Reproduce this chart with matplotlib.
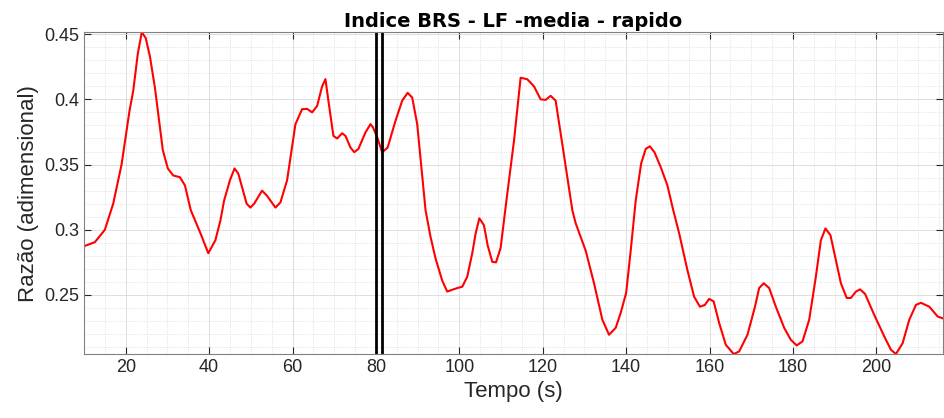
import matplotlib.pyplot as plt
import numpy as np
from matplotlib.ticker import MultipleLocator

# curve (tempo in s, razao)
tempo = [10, 12.6, 15, 17, 19, 20.9, 21.8, 22.9, 23.85, 24.8, 25.8, 27, 28.9, 30.1,
         31.4, 33, 34.2, 35.6, 37.9, 39.8, 41.5, 42.7, 43.6, 45, 46.1, 47, 49, 49.9,
         50.8, 52.7, 53.9, 55.9, 57.1, 58.7, 60.7, 62.3, 63.5, 64.7, 65.9, 67.1, 67.9,
         68.6, 69.8, 70.7, 71.9, 72.7, 73.9, 74.8, 75.8, 77.5, 78.7, 79.3, 80.3, 81.5,
         82.8, 84.7, 86.3, 87.6, 88.7, 89.9, 91.9, 93.1, 94.3, 95.9, 97.1, 98.3, 99.5,
         100.7, 101.9, 103.1, 103.9, 104.8, 105.9, 106.8, 107.9, 108.8, 109.9, 110.7,
         111.3, 113.1, 114.7, 116.3, 117.9, 119.5, 120.7, 121.9, 123.1, 124.3, 125.9,
         127.1, 127.9, 130.3, 132.3, 134.3, 135.9, 137.5, 138.7, 140, 141.1, 142.3,
         143.6, 144.7, 145.7, 146.8, 148.3, 149.9, 151.3, 152.7, 154.7, 156.3, 157.7,
         158.9, 159.9, 161, 162.3, 163.9, 165.8, 167.1, 169.1, 170.9, 171.9, 173,
         174.3, 175.9, 177.9, 179.5, 180.9, 182.3, 183.9, 185.5, 186.7, 187.8, 189,
         190.3, 191.5, 192.9, 193.9, 195.1, 196.1, 197.3, 199.5, 201.9, 203.5, 204.7,
         206.3, 207.9, 209.5, 210.7, 212.7, 214.7, 216]
razao = [0.2874, 0.2905, 0.300, 0.320, 0.350, 0.391, 0.4065, 0.435, 0.4515, 0.447,
         0.433, 0.409, 0.361, 0.347, 0.3416, 0.3403, 0.334, 0.315, 0.2975, 0.282,
         0.292, 0.307, 0.3225, 0.338, 0.347, 0.343, 0.320, 0.317, 0.320, 0.330,
         0.326, 0.317, 0.321, 0.338, 0.381, 0.3925, 0.3927, 0.390, 0.395, 0.410,
         0.4155, 0.399, 0.372, 0.370, 0.374, 0.372, 0.363, 0.3595, 0.362, 0.3747,
         0.381, 0.3785, 0.371, 0.3594, 0.363, 0.3836, 0.399, 0.405, 0.4014, 0.381,
         0.315, 0.2945, 0.278, 0.261, 0.2526, 0.254, 0.2553, 0.2563, 0.264, 0.282,
         0.297, 0.3088, 0.3035, 0.288, 0.2754, 0.275, 0.286, 0.307, 0.3225, 0.368,
         0.4166, 0.4154, 0.410, 0.400, 0.3996, 0.4027, 0.399, 0.3736, 0.3403, 0.315,
         0.305, 0.284, 0.259, 0.231, 0.2195, 0.2248, 0.2363, 0.2515, 0.284, 0.3225,
         0.3508, 0.362, 0.364, 0.3594, 0.348, 0.334, 0.315, 0.2975, 0.269, 0.2487,
         0.241, 0.2424, 0.247, 0.245, 0.2286, 0.2118, 0.2047, 0.2067, 0.2195, 0.241,
         0.2553, 0.259, 0.2553, 0.241, 0.2248, 0.2156, 0.2113, 0.2144, 0.231, 0.264,
         0.292, 0.301, 0.2958, 0.2767, 0.259, 0.2477, 0.2477, 0.2526, 0.2543, 0.2508,
         0.2347, 0.2182, 0.208, 0.2047, 0.213, 0.231, 0.2424, 0.244, 0.241, 0.2335,
         0.232]
marcas = [80, 81.5]

plt.rcParams['font.family'] = ['Liberation Sans', 'DejaVu Sans']

fig = plt.figure(figsize=(9.44, 4.18), dpi=100)
ax = fig.add_axes([0.089, 0.153, 0.910, 0.770])

ax.plot(tempo, razao, color='red', linewidth=1.5)
for m in marcas:
    ax.axvline(m, color='black', linewidth=2)

ax.set_xlim(min(tempo), max(tempo))
ax.set_ylim(min(razao), max(razao))
ax.set_xticks(np.arange(20, 201, 20))
ax.set_yticks([0.25, 0.3, 0.35, 0.4, 0.45])
ax.set_yticklabels(['0.25', '0.3', '0.35', '0.4', '0.45'])
ax.xaxis.set_minor_locator(MultipleLocator(5))
ax.yaxis.set_minor_locator(MultipleLocator(0.01))

ax.grid(which='major', color='#d9d9d9', linewidth=0.6)
ax.grid(which='minor', color='#d9d9d9', linewidth=0.6, linestyle=':')
ax.tick_params(which='major', direction='in', top=True, right=True, length=5,
               labelsize=13, colors='#262626', width=0.8)
ax.tick_params(which='minor', length=0)
for s in ax.spines.values():
    s.set_color('#808080')

ax.set_xlabel('Tempo (s)', fontsize=16, color='#262626')
ax.set_ylabel('Razão (adimensional)', fontsize=16, color='#262626')
ax.set_title('Indice BRS - LF -media - rapido', fontsize=14, fontweight='bold',
             family=['DejaVu Sans'], pad=4)

fig.savefig('out.png', dpi=100)
